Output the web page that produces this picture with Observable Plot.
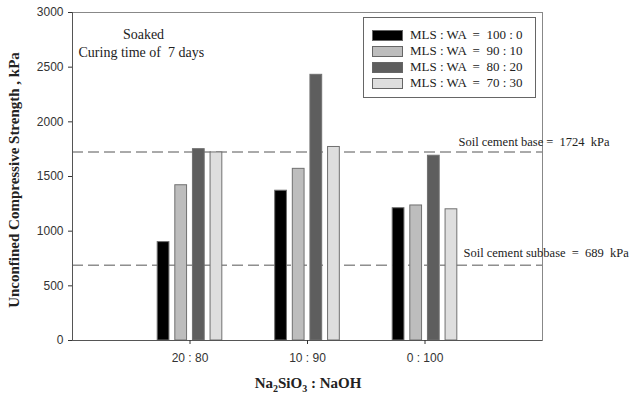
<!DOCTYPE html>
<html>
<head>
<meta charset="utf-8">
<script src="https://cdn.jsdelivr.net/npm/d3@7"></script>
<script src="https://cdn.jsdelivr.net/npm/@observablehq/plot@0.6"></script>
<style>
  html, body { margin: 0; padding: 0; background: #fff; }
  #wrap { position: relative; width: 631px; height: 398px; }
  #legend { position: absolute; left: 363px; top: 17px; width: 173px; height: 81px;
    border: 1px solid #666; background: #fff; box-sizing: border-box;
    font-family: "Liberation Serif", serif; font-size: 13px; color: #222; }
  .row { position: absolute; left: 8px; height: 14px; display: flex; align-items: center; white-space: pre; }
  .sw { width: 29px; height: 9px; border: 1px solid #666; margin-right: 7px; }
</style>
</head>
<body>
<div id="wrap"><div id="legend"></div></div>
<script>
const categories = ["20 : 80", "10 : 90", "0 : 100"];
const series = ["MLS : WA  =  100 : 0", "MLS : WA  =  90 : 10", "MLS : WA  =  80 : 20", "MLS : WA  =  70 : 30"];
const colors = ["#000000", "#bdbdbd", "#5e5e5e", "#dedede"];
const values = [
  [900, 1370, 1210],   // 100:0
  [1420, 1570, 1235],  // 90:10
  [1750, 2430, 1690],  // 80:20
  [1720, 1770, 1200]   // 70:30
];
const yTicks = [0, 500, 1000, 1500, 2000, 2500, 3000];
const baseValue = 1724;
const subbaseValue = 689;

const offsets = [-0.225, -0.075, 0.075, 0.225];
const halfW = 0.05;
const rows = [];
series.forEach((s, si) => {
  categories.forEach((c, ci) => {
    const xc = ci + 1 + offsets[si];
    rows.push({series: s, cat: c, x1: xc - halfW, x2: xc + halfW, v: values[si][ci], fill: colors[si]});
  });
});

const serif = "Liberation Serif, Times New Roman, serif";

const plot = Plot.plot({
  width: 631,
  height: 398,
  marginLeft: 72,
  marginTop: 12,
  marginRight: 89,
  marginBottom: 58,
  style: {fontFamily: "Liberation Sans, Arial, sans-serif", fontSize: "11px", color: "#333", background: "#fff"},
  x: {domain: [0, 4], label: null},
  y: {domain: [0, 3000], label: null},
  marks: [
    Plot.frame({stroke: "#888"}),
    Plot.ruleY([baseValue, subbaseValue], {stroke: "#555", strokeDasharray: "11,5", strokeWidth: 1}),
    Plot.rectY(rows, {x1: "x1", x2: "x2", y1: 0, y2: "v", fill: "fill", stroke: "#707070", strokeWidth: 1}),
    Plot.ruleX([0], {stroke: "#555"}),
    Plot.ruleY([0], {stroke: "#555"}),
    Plot.axisX({ticks: [1, 2, 3], tickFormat: d => categories[d - 1], tickSize: 4, tickPadding: 9, label: null, fontSize: 12}),
    Plot.axisY({ticks: yTicks, tickFormat: d => String(d), tickSize: 4, tickPadding: 5, label: null, fontSize: 12}),
    Plot.text([`Soil cement base =  ${baseValue}  kPa`], {y: [baseValue], frameAnchor: "right", textAnchor: "start", dx: -84, dy: -10, fontFamily: serif, fontSize: 12.5, fill: "#222"}),
    Plot.text([`Soil cement subbase  =  ${subbaseValue}  kPa`], {y: [subbaseValue], frameAnchor: "right", textAnchor: "start", dx: -79, dy: -12, fontFamily: serif, fontSize: 12.5, fill: "#222"}),
    Plot.text(["Soaked"], {frameAnchor: "top-left", textAnchor: "middle", dx: 71, dy: 17, fontFamily: serif, fontSize: 14, fill: "#222"}),
    Plot.text(["Curing time of  7 days"], {frameAnchor: "top-left", textAnchor: "start", dx: 6, dy: 35, fontFamily: serif, fontSize: 14, fill: "#222"})
  ]
});

// Axis titles inside the SVG
const svg = d3.select(plot);
svg.append("text")
  .attr("transform", "translate(16,180) rotate(-90)")
  .attr("text-anchor", "middle")
  .attr("dominant-baseline", "middle")
  .style("font-family", serif).style("font-weight", "bold").style("font-size", "15px").attr("fill", "#222")
  .text("Unconfined Compressive Strength , kPa");
const xt = svg.append("text")
  .attr("x", 308).attr("y", 388)
  .attr("text-anchor", "middle")
  .style("font-family", serif).style("font-weight", "bold").style("font-size", "15px").attr("fill", "#222");
xt.append("tspan").text("Na");
xt.append("tspan").attr("dy", 4).style("font-size", "10px").text("2");
xt.append("tspan").attr("dy", -4).text("SiO");
xt.append("tspan").attr("dy", 4).style("font-size", "10px").text("3");
xt.append("tspan").attr("dy", -4).text(" : NaOH");

document.getElementById("wrap").prepend(plot);

const legend = document.getElementById("legend");
const tops = [10, 26, 42, 58];
series.forEach((s, i) => {
  const r = document.createElement("div");
  r.className = "row";
  r.style.top = tops[i] + "px";
  const sw = document.createElement("div");
  sw.className = "sw";
  sw.style.background = colors[i];
  r.appendChild(sw);
  r.appendChild(document.createTextNode(s));
  legend.appendChild(r);
});
</script>
</body>
</html>
